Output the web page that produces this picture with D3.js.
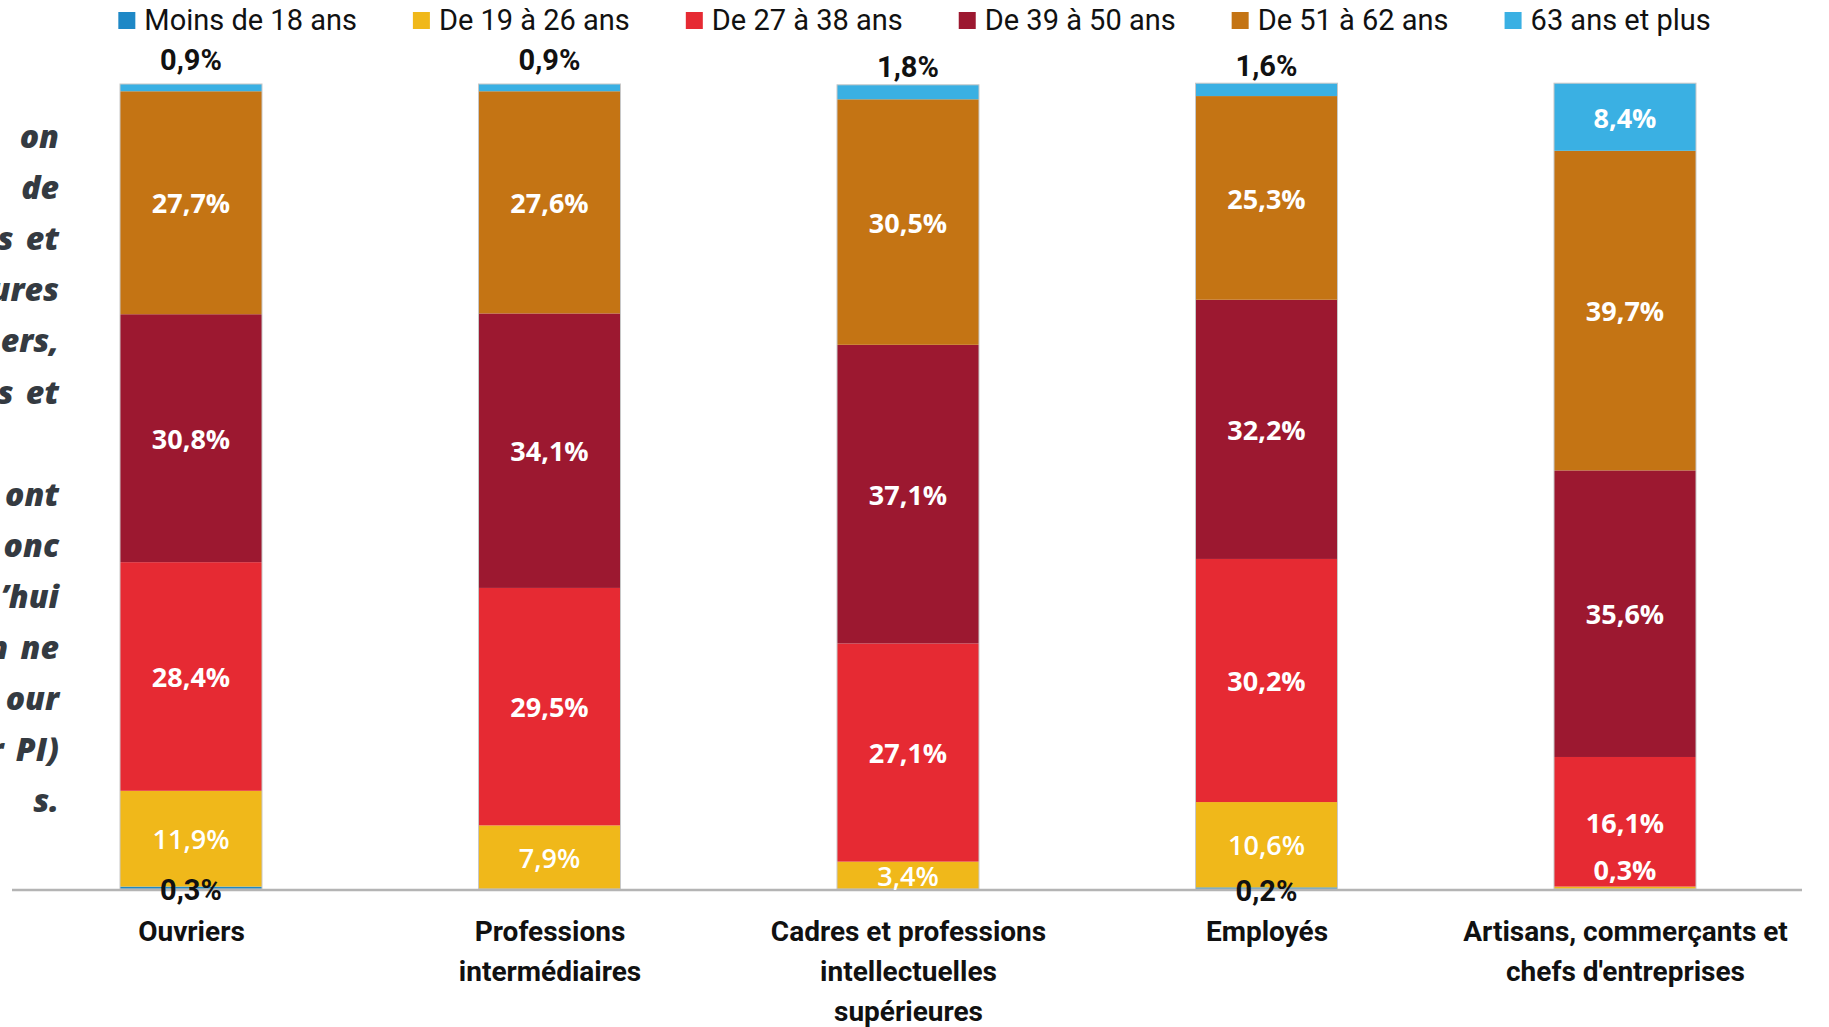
<!DOCTYPE html>
<html>
<head>
<meta charset="utf-8">
<script src="https://cdn.jsdelivr.net/npm/d3@7"></script>
<style>
  html, body { margin: 0; padding: 0; background: #fff; overflow: hidden; }
  svg { display: block; }
</style>
</head>
<body>
<div id="chart"></div>
<script>
// categories and their wrapped tick labels
var categories = ["Ouvriers", "Professions intermédiaires", "Cadres et professions intellectuelles supérieures", "Employés", "Artisans, commerçants et chefs d'entreprises"];
var categoryLines = [
    ["Ouvriers"],
    ["Professions", "intermédiaires"],
    ["Cadres et professions", "intellectuelles", "supérieures"],
    ["Employés"],
    ["Artisans, commerçants et", "chefs d'entreprises"]
];

var seriesNames = ["Moins de 18 ans", "De 19 à 26 ans", "De 27 à 38 ans", "De 39 à 50 ans", "De 51 à 62 ans", "63 ans et plus"];
var seriesColors = ["#1e88c6", "#f0b81a", "#e62a33", "#9c1830", "#c47414", "#3ab0e3"];

// values in %, one array per age group
var moins18 = [0.3, 0, 0, 0.2, 0];
var de19a26 = [11.9, 7.9, 3.4, 10.6, 0.3];
var de27a38 = [28.4, 29.5, 27.1, 30.2, 16.1];
var de39a50 = [30.8, 34.1, 37.1, 32.2, 35.6];
var de51a62 = [27.7, 27.6, 30.5, 25.3, 39.7];
var plus63 = [0.9, 0.9, 1.8, 1.6, 8.4];

// fragments of the cut off text box on the left edge
var sideText = ["on", "de", "s et", "ures", "ers,", "s et", "", "ont", "onc", "\u2019hui", "n ne", "our", "r PI)", "s."];

var width = 1829, height = 1027;
var plotTop = 84, plotBase = 889;

var svg = d3.select("#chart").append("svg")
    .attr("width", width)
    .attr("height", height);

var seriesValues = [moins18, de19a26, de27a38, de39a50, de51a62, plus63];

var rows = categories.map(function(c, i) {
    var row = { cat: c };
    seriesNames.forEach(function(s, j) { row[s] = seriesValues[j][i]; });
    return row;
});

var stack = d3.stack().keys(seriesNames);
var stacked = stack(rows);

var x = d3.scalePoint()
    .domain(categories)
    .range([191, 1625]);

var y = d3.scaleLinear()
    .domain([0, 100])
    .range([plotBase, plotTop]);

var barW = 142;
var fmt = function(v) { return d3.format(".1f")(v).replace(".", ",") + "%"; };
var rowTotal = function(d) { return d3.sum(seriesNames, function(s) { return d[s]; }); };

/*** side text ***/
var side = svg.append("g")
    .attr("font-family", "'Open Sans', sans-serif")
    .attr("font-weight", 800)
    .attr("font-style", "italic")
    .attr("font-size", 32)
    .attr("fill", "#343a41")
    .attr("text-anchor", "end");

side.selectAll("text")
    .data(sideText)
    .enter().append("text")
    .attr("x", 59)
    .attr("y", function(d, i) { return 148 + i * 51.1; })
    .attr("word-spacing", 4)
    .text(function(d) { return d; });

/*** bars ***/
var layers = svg.append("g").selectAll("g")
    .data(stacked)
    .enter().append("g")
    .attr("fill", function(d, i) { return seriesColors[i]; });

layers.selectAll("rect")
    .data(function(d) { return d; })
    .enter().append("rect")
    .attr("x", function(d) { return x(d.data.cat) - barW / 2; })
    .attr("y", function(d) { return y(d[1]); })
    .attr("width", barW)
    .attr("height", function(d) { return y(d[0]) - y(d[1]); });

// thin grey outline round each bar
svg.append("g").selectAll("rect")
    .data(rows)
    .enter().append("rect")
    .attr("x", function(d) { return x(d.cat) - barW / 2; })
    .attr("y", function(d) { return y(rowTotal(d)); })
    .attr("width", barW)
    .attr("height", function(d) { return plotBase - y(rowTotal(d)); })
    .attr("fill", "none")
    .attr("stroke", "#c8c8c8")
    .attr("stroke-width", 1);

// axis baseline
svg.append("line")
    .attr("x1", 12).attr("x2", 1802)
    .attr("y1", plotBase + 1).attr("y2", plotBase + 1)
    .attr("stroke", "#b4b4b4")
    .attr("stroke-width", 2.5);

/*** value labels ***/
var labels = [];
stacked.forEach(function(layer, j) {
    layer.forEach(function(d) {
        var v = d[1] - d[0];
        if (v <= 0) return;
        var lab = { x: x(d.data.cat), v: v, series: j };
        var mid = (y(d[0]) + y(d[1])) / 2;
        if (v < 2.5 && j == seriesNames.length - 1) {
            // small top segment: label above the bar
            lab.y = y(d[1]) - (v > 1.5 ? 18 : 24);
            lab.outside = true;
        } else if (v < 1 && j == 0) {
            // bottom segment: label on the axis
            lab.y = mid + 2;
            lab.outside = true;
        } else if (v < 1) {
            lab.y = mid - 18;
        } else {
            lab.y = mid + 1;
        }
        labels.push(lab);
    });
});

svg.append("g").selectAll("text")
    .data(labels)
    .enter().append("text")
    .attr("x", function(d) { return d.x; })
    .attr("y", function(d) { return d.y; })
    .attr("dy", "0.36em")
    .attr("text-anchor", "middle")
    .attr("font-family", function(d) { return d.outside ? "Roboto, sans-serif" : "'Open Sans', sans-serif"; })
    .attr("font-size", function(d) { return d.outside ? 29 : 27; })
    .attr("font-weight", function(d) { return (d.series == 1 && d.v > 1) ? 600 : 700; })
    .attr("fill", function(d) { return d.outside ? "#111" : "#fff"; })
    .text(function(d) { return fmt(d.v); });

/*** category axis ***/
var xAxis = d3.axisBottom(x).tickSize(0).tickFormat("");
var ax = svg.append("g")
    .attr("transform", "translate(0," + plotBase + ")")
    .call(xAxis);
ax.select(".domain").remove();

ax.selectAll(".tick").append("text")
    .attr("fill", "#111")
    .attr("font-family", "Roboto, sans-serif")
    .attr("font-weight", 700)
    .attr("font-size", 28)
    .attr("text-anchor", "middle")
    .each(function(d, i) {
        var t = d3.select(this);
        categoryLines[i].forEach(function(line, k) {
            t.append("tspan")
                .attr("x", 0)
                .attr("y", 52 + k * 40)
                .text(line);
        });
    });

/*** legend ***/
var legend = svg.append("g")
    .attr("font-family", "Roboto, sans-serif")
    .attr("font-size", 29)
    .attr("fill", "#111");

var items = legend.selectAll("g")
    .data(seriesNames)
    .enter().append("g");

items.append("rect")
    .attr("y", 12)
    .attr("width", 17)
    .attr("height", 17)
    .attr("fill", function(d, i) { return seriesColors[i]; });

items.append("text")
    .attr("x", 26)
    .attr("y", 30)
    .text(function(d) { return d; });

var gap = 56, pos = 0, offsets = [];
items.each(function() {
    offsets.push(pos);
    pos += 26 + this.querySelector("text").getComputedTextLength() + gap;
});
var total = pos - gap;
var start = (width - total) / 2;
items.attr("transform", function(d, i) { return "translate(" + (start + offsets[i]) + ",0)"; });
</script>
</body>
</html>
